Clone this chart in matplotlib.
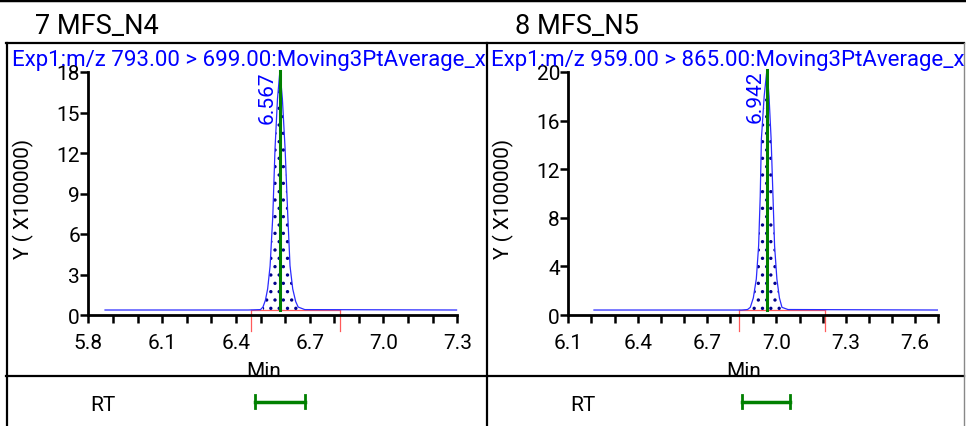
import numpy as np
import matplotlib
matplotlib.use("Agg")
import matplotlib.pyplot as plt
from matplotlib.lines import Line2D
from matplotlib.ticker import MultipleLocator

plt.rcParams['font.family'] = ['Roboto', 'DejaVu Sans']
plt.rcParams['hatch.linewidth'] = 1.2

W, H = 966, 427

# panel titles / headers
titles = ["7 MFS_N4", "8 MFS_N5"]
headers = ["Exp1:m/z 793.00 > 699.00:Moving3PtAverage_x",
           "Exp1:m/z 959.00 > 865.00:Moving3PtAverage_x"]
rt_labels = ["6.567", "6.942"]

# chromatogram traces (min, intensity x100000)
t_n4 = [5.868, 6.45, 6.500, 6.510, 6.520, 6.529, 6.539, 6.550, 6.559, 6.569, 6.579,
        6.589, 6.600, 6.611, 6.620, 6.631, 6.643, 6.653, 6.680, 7.297]
y_n4 = [0.37, 0.37, 0.40, 0.59, 1.10, 1.93, 3.63, 7.33, 12.3, 16.0, 18.1,
        16.0, 12.3, 7.33, 3.63, 1.93, 1.00, 0.59, 0.40, 0.37]
t_n5 = [6.211, 6.850, 6.875, 6.887, 6.900, 6.913, 6.923, 6.930, 6.935, 6.947, 6.959,
        6.968, 6.977, 6.985, 6.992, 7.002, 7.013, 7.024, 7.050, 7.696]
y_n5 = [0.41, 0.41, 0.45, 0.63, 1.40, 2.96, 5.70, 9.82, 14.5, 18.0, 20.2,
        18.0, 14.5, 9.82, 5.70, 2.96, 1.40, 0.63, 0.45, 0.41]

# integration limits and RT windows
limits = [(6.461, 6.823), (6.839, 7.211)]
rt_window = [(6.478, 6.681), (6.852, 7.059)]

xlims = [(5.8, 7.3), (6.1, 7.7)]
xticks = [[5.8, 6.1, 6.4, 6.7, 7.0, 7.3], [6.1, 6.4, 6.7, 7.0, 7.3, 7.6]]
ylims = [(0, 18), (0, 20)]
yticks = [[0, 3, 6, 9, 12, 15, 18], [0, 4, 8, 12, 16, 20]]

traces = [(t_n4, y_n4), (t_n5, y_n5)]

fig = plt.figure(figsize=(W / 100, H / 100), dpi=100)


def fx(x):
    return x / W


def fy(y):
    return 1 - y / H


def hline(x0, x1, y, lw=1.6, c='black'):
    fig.add_artist(Line2D([fx(x0), fx(x1)], [fy(y), fy(y)], color=c, lw=lw,
                          transform=fig.transFigure))


def vline(x, y0, y1, lw=1.6, c='black'):
    fig.add_artist(Line2D([fx(x), fx(x)], [fy(y0), fy(y1)], color=c, lw=lw,
                          transform=fig.transFigure))


# frame
hline(0, W, 1, lw=2.5)
hline(6, 964, 44)
hline(6, 964, 377)
vline(6.5, 44, 427)
vline(486.5, 44, 427)
vline(964, 44, 427, lw=1.0, c='#888888')

axes_px = [(88.3, 457.3), (568.3, 938.3)]
title_x = [35, 515]
header_x = [12, 491]

for i in range(2):
    x0, x1 = axes_px[i]
    ax = fig.add_axes([fx(x0), fy(316), fx(x1 - x0), (316 - 73) / H])
    t, y = traces[i]
    t = np.array(t)
    y = np.array(y)
    base = y[0]

    lo, hi = limits[i]
    # integration baseline & markers
    ymin = -16 / (243 / ylims[i][1])
    ax.plot([lo, hi], [base, base], color='#ff5a5a', lw=0.9, zorder=2)
    for xb in (lo, hi):
        ax.plot([xb, xb], [base, ymin], color='#ff5a5a', lw=0.9, clip_on=False, zorder=2)

    ax.plot(t, y, color='#2b2bff', lw=0.9, clip_on=False, zorder=3)
    ax.fill_between(t, y, base, where=(t >= lo) & (t <= hi) & (y > base + 0.05),
                    facecolor='none', edgecolor='#00008b', hatch='..', lw=0, zorder=2)
    apex = t[np.argmax(y)]
    ax.plot([apex, apex], [base, y.max()], color='#008000', lw=2.2, clip_on=False, zorder=4)
    ax.text(apex - 0.012, y.max(), rt_labels[i], rotation=90, color='blue',
            ha='right', va='top', fontsize=15)

    ax.set_xlim(*xlims[i])
    ax.set_ylim(*ylims[i])
    ax.set_xticks(xticks[i])
    ax.set_yticks(yticks[i])
    ax.xaxis.set_minor_locator(MultipleLocator(0.1))
    for s in ('top', 'right'):
        ax.spines[s].set_visible(False)
    for s in ('left', 'bottom'):
        ax.spines[s].set_linewidth(2.0)
    ax.tick_params(axis='x', which='both', direction='out', length=6, width=1.8,
                   labelsize=15, pad=7)
    ax.tick_params(axis='y', direction='out', length=6, width=1.8, labelsize=15, pad=0)
    ax.set_xlabel("Min", fontsize=15)
    ax.xaxis.set_label_coords(0.475, -0.19)
    ax.set_ylabel("Y ( X100000)", fontsize=15)
    ax.yaxis.set_label_coords(-0.148, 0.48)
    ax.patch.set_alpha(0)

    fig.text(fx(title_x[i]), fy(26), titles[i], fontsize=19.5, va='center', ha='left')
    fig.text(fx(header_x[i]), fy(66), headers[i], fontsize=16, color='blue',
             va='baseline', ha='left')

    # RT row
    axr = fig.add_axes([fx(x0), fy(425), fx(x1 - x0), 45 / H])
    axr.set_xlim(*xlims[i])
    axr.set_ylim(-1, 1)
    axr.axis('off')
    a, b = rt_window[i]
    axr.plot([a, b], [0, 0], color='#008000', lw=2.5)
    axr.plot([a, a], [-0.3, 0.3], color='#008000', lw=2)
    axr.plot([b, b], [-0.3, 0.3], color='#008000', lw=2)
    fig.text(fx(x0 + 2), fy(406), "RT", fontsize=15, va='center', ha='left')

fig.savefig("out.png", dpi=100)
